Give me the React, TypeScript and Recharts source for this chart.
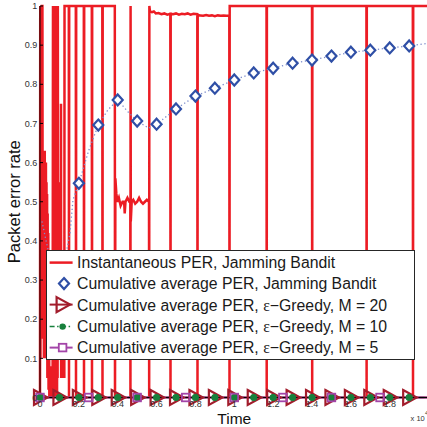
import React from 'react';
import { ComposedChart, Line, XAxis, YAxis, Legend } from 'recharts';

// ---------- axes ----------
const xTicks = [0, 2000, 4000, 6000, 8000, 10000, 12000, 14000, 16000, 18000];
const xTickLabels = ['0', '0.2', '0.4', '0.6', '0.8', '1', '1.2', '1.4', '1.6', '1.8'];
const yTicks = [0, 0.1, 0.2, 0.3, 0.4, 0.5, 0.6, 0.7, 0.8, 0.9, 1];
const yTickLabels = ['0', '0.1', '0.2', '0.3', '0.4', '0.5', '0.6', '0.7', '0.8', '0.9', '1'];

// ---------- Instantaneous PER, Jamming Bandit: [time, PER] ----------
const instPER: [number, number][] = [
  [0, 0], [12, 1], [25, 0.1], [38, 1], [52, 0.2], [66, 1], [80, 0.15], [95, 1], [125, 1], [138, 0.3],
  [155, 0.62], [170, 0.15], [185, 0.6], [200, 0.1], [215, 0.58], [230, 0.2], [245, 0.63], [260, 0.12],
  [275, 0.57], [290, 0.25], [305, 0.6], [320, 0.1], [335, 0.55], [350, 0.2], [365, 0.52], [380, 0.05],
  [395, 0.47], [410, 0.1], [425, 0.42], [440, 0.02], [460, 0.3], [480, 0], [530, 0.08], [590, 0], [650, 0.05],
  [668, 1], [682, 0.05], [696, 1], [710, 0], [724, 1], [738, 0.1], [752, 1], [766, 0], [780, 1], [794, 0.05],
  [808, 1], [822, 0], [836, 1], [850, 0.1], [864, 1], [878, 0], [892, 1], [906, 0.05], [918, 1], [930, 0.3],
  [945, 0.52], [960, 0.2], [975, 0.55], [990, 0.25], [1005, 0.5], [1020, 0.15], [1035, 0.48], [1050, 0.2],
  [1064, 0.42], [1074, 0.1], [1081, 0.75], [1088, 0.05], [1110, 0.3], [1140, 0.1], [1170, 0.25], [1200, 0.05],
  [1230, 0.2], [1252, 0.05], [1262, 1],
  [1483, 1], [1493, 0], [1503, 1], [1843, 1], [1853, 0], [1863, 1], [2255, 1], [2265, 0], [2275, 1],
  [2666, 1], [2676, 0], [2686, 1], [3207, 1], [3217, 0], [3227, 1], [3850, 1], [3860, 0],
  [3880, 0.56], [3930, 0.52], [3990, 0.5], [4060, 0.51], [4150, 0.49], [4250, 0.5], [4330, 0.5], [4360, 0.47],
  [4400, 0.5], [4500, 0.51], [4600, 0.5], [4648, 0.5], [4655, 0], [4662, 1], [4672, 0.45], [4720, 0.5],
  [4800, 0.505], [4900, 0.495], [5000, 0.5], [5100, 0.51], [5200, 0.5], [5300, 0.495], [5400, 0.5],
  [5500, 0.505], [5610, 0.5], [5619, 0], [5628, 1],
  [5660, 0.986], [5760, 0.984], [5860, 0.986], [5960, 0.981], [6100, 0.982], [6250, 0.979], [6400, 0.981],
  [6550, 0.978], [6707, 0.98], [6717, 0], [6727, 0.98], [6850, 0.979], [7000, 0.981], [7150, 0.978],
  [7300, 0.98], [7450, 0.979], [7600, 0.981], [7750, 0.978], [7900, 0.98], [8096, 0.979], [8106, 0],
  [8116, 0.977], [8250, 0.976], [8400, 0.975], [8550, 0.977], [8700, 0.975], [8850, 0.976], [9000, 0.974],
  [9150, 0.976], [9300, 0.975], [9450, 0.976], [9600, 0.975], [9743, 0.975], [9753, 0], [9763, 1],
  [11658, 1], [11668, 0], [11678, 1], [13999, 1], [14009, 0], [14019, 1], [16800, 1], [16810, 0], [16820, 1],
  [19188, 1], [19198, 0], [19208, 1], [20000, 1],
];

// ---------- Cumulative average PER, Jamming Bandit ----------
const jbMarkTime = [2000, 3000, 4000, 5000, 6000, 7000, 8000, 9000, 10000, 11000, 12000, 13000, 14000, 15000, 16000, 17000, 18000, 19000];
const jbMarkPER = [0.547, 0.696, 0.76, 0.706, 0.698, 0.737, 0.77, 0.79, 0.811, 0.829, 0.841, 0.854, 0.862, 0.872, 0.882, 0.887, 0.893, 0.898];
const jbCurveExtra: [number, number][] = [
  [100, 0.45], [400, 0.38], [800, 0.36], [1100, 0.36], [1390, 0.38], [1544, 0.42], [1698, 0.505],
  [2500, 0.63], [3500, 0.735], [4500, 0.731], [5600, 0.688], [20000, 0.905],
];

// ---------- epsilon-greedy ----------
const greedyTime = [0, 1000, 2000, 3000, 4000, 5000, 6000, 7000, 8000, 9000, 10000, 11000, 12000, 13000, 14000, 15000, 16000, 17000, 18000, 19000, 20000];
const greedy20PER = [0, 0, 0, 0, 0, 0, 0, 0, 0, 0, 0, 0, 0, 0, 0, 0, 0, 0, 0, 0, 0];
const greedy10PER = [0, 0, 0, 0, 0, 0, 0, 0, 0, 0, 0, 0, 0, 0, 0, 0, 0, 0, 0, 0, 0];
const greedy5Time = [0, 2500, 5000, 7500, 10000, 12500, 15000, 17500, 20000];
const greedy5PER = [0, 0, 0, 0, 0, 0, 0, 0, 0];

const legendLabels = [
  'Instantaneous PER, Jamming Bandit',
  'Cumulative average PER, Jamming Bandit',
  'Cumulative average PER, ε−Greedy, M = 20',
  'Cumulative average PER, ε−Greedy, M = 10',
  'Cumulative average PER, ε−Greedy, M = 5',
];

const RED = '#ec1c24';
const BLUE = '#2f4fa6';
const DOT_BLUE = '#7d8ccb';
const DARKRED = '#a21d2c';
const GREEN = '#17803c';
const PURPLE = '#a345a8';
const FONT = '"Liberation Sans", Arial, sans-serif';

const instData = instPER.map(([t, v]) => ({ t, v }));
const jbMarkData = jbMarkTime.map((t, i) => ({ t, v: jbMarkPER[i] }));
const jbCurveData = [...jbMarkData, ...jbCurveExtra.map(([t, v]) => ({ t, v }))].sort((a, b) => a.t - b.t);
const g20Data = greedyTime.map((t, i) => ({ t, v: greedy20PER[i] }));
const g10Data = greedyTime.map((t, i) => ({ t, v: greedy10PER[i] }));
const g5Data = greedy5Time.map((t, i) => ({ t, v: greedy5PER[i] }));

const isEnd = (p: any) => p.payload && p.payload.t >= 20000;

const DiamondDot = (p: any) => {
  const { cx, cy, index } = p;
  if (cx == null || cy == null) return <g key={`d${index}`} />;
  return (
    <path key={`d${index}`} d={`M${cx},${cy - 5.5} L${cx + 5},${cy} L${cx},${cy + 5.5} L${cx - 5},${cy} Z`}
      fill="#fff" stroke={BLUE} strokeWidth={2.2} />
  );
};
const TriDot = (p: any) => {
  const { cx, cy, index } = p;
  if (cx == null || cy == null || isEnd(p)) return <g key={`t${index}`} />;
  return (
    <path key={`t${index}`} d={`M${cx - 6},${cy - 7.5} L${cx + 7.5},${cy} L${cx - 6},${cy + 7.5} Z`}
      fill="none" stroke={DARKRED} strokeWidth={2.2} strokeLinejoin="miter" />
  );
};
const CircDot = (p: any) => {
  const { cx, cy, index } = p;
  if (cx == null || cy == null || isEnd(p)) return <g key={`c${index}`} />;
  return <circle key={`c${index}`} cx={cx} cy={cy} r={3.2} fill={GREEN} stroke={GREEN} strokeWidth={1} />;
};
const SqDot = (p: any) => {
  const { cx, cy, index } = p;
  if (cx == null || cy == null || isEnd(p)) return <g key={`s${index}`} />;
  return <rect key={`s${index}`} x={cx - 3.8} y={cy - 3.8} width={7.6} height={7.6} fill="none" stroke={PURPLE} strokeWidth={1.8} />;
};

const EmptyTick = () => <g />;

const XLabel = (props: any) => {
  const vb = props.viewBox || { x: 40, y: 397.5, width: 388.6, height: 29.5 };
  const right = vb.x + vb.width;
  return (
    <g>
      <text x={vb.x + vb.width / 2} y={vb.y + 26} textAnchor="middle" fontFamily={FONT} fontSize={15.5} fill="#111">Time</text>
      <text x={right - 18} y={vb.y + 23} fontFamily={FONT} fontSize={7.5} fill="#333">x 10</text>
      <text x={right - 3.5} y={vb.y + 17.5} fontFamily={FONT} fontSize={6} fill="#333">4</text>
    </g>
  );
};

const YLabel = (props: any) => {
  const vb = props.viewBox || { x: 0, y: 6, width: 40, height: 391.5 };
  const cx = 20;
  const cy = vb.y + vb.height / 2;
  return (
    <text x={cx} y={cy} transform={`rotate(-90 ${cx} ${cy})`} textAnchor="middle" fontFamily={FONT} fontSize={16.5} fill="#111">
      Packet error rate
    </text>
  );
};

const LegendIcon = ({ i }: { i: number }) => {
  const y = 10.6;
  if (i === 0) return <line x1={2.6} x2={25.6} y1={y} y2={y} stroke={RED} strokeWidth={2.5} />;
  if (i === 1) return <path d={`M17,${y - 5.5} L22,${y} L17,${y + 5.5} L12,${y} Z`} fill="#fff" stroke={BLUE} strokeWidth={2.2} />;
  if (i === 2) return (
    <g>
      <line x1={2.6} x2={25.6} y1={y} y2={y} stroke={DARKRED} strokeWidth={2} />
      <path d={`M${15.6 - 6},${y - 7.5} L${15.6 + 7.5},${y} L${15.6 - 6},${y + 7.5} Z`} fill="none" stroke={DARKRED} strokeWidth={2.2} />
    </g>
  );
  if (i === 3) return (
    <g>
      <line x1={2.6} x2={25.6} y1={y} y2={y} stroke={GREEN} strokeWidth={1.5} strokeDasharray="5 2.5 1.5 2.5" />
      <circle cx={15.6} cy={y} r={3.2} fill={GREEN} />
    </g>
  );
  return (
    <g>
      <line x1={2.6} x2={25.6} y1={y} y2={y} stroke={PURPLE} strokeWidth={2} />
      <rect x={15.6 - 3.8} y={y - 3.8} width={7.6} height={7.6} fill="#fff" stroke={PURPLE} strokeWidth={1.8} />
    </g>
  );
};

const renderLabel = (s: string) => {
  const parts = s.split('ε');
  if (parts.length === 1) return s;
  return (
    <>
      {parts[0]}
      <span style={{ fontFamily: '"Liberation Serif", "DejaVu Serif", serif' }}>ε</span>
      {parts[1]}
    </>
  );
};

const renderLegend = () => (
  <div style={{ position: 'relative', width: 367, height: 108, border: '1.4px solid #262626', background: '#fff' }}>
    {legendLabels.map((lab, i) => (
      <div key={i} style={{ position: 'absolute', left: 0, top: 0.95 + i * 21.25, height: 21.25, display: 'flex', alignItems: 'center', whiteSpace: 'nowrap' }}>
        <svg width={30} height={21.25} style={{ display: 'block' }}><LegendIcon i={i} /></svg>
        <span style={{ fontFamily: FONT, fontSize: 15.8, color: '#1a1a1a', lineHeight: '21px' }}>{renderLabel(lab)}</span>
      </div>
    ))}
  </div>
);

export default function App() {
  return (
    <div style={{ position: 'absolute', left: 0, top: 0, width: 427, height: 427, overflow: 'hidden', background: '#fff' }}>
      <ComposedChart width={440} height={427} margin={{ top: 6, right: 11.4, bottom: 0, left: 0 }}>
        <XAxis
          type="number" dataKey="t" domain={[0, 20000]} ticks={xTicks}
          tickFormatter={(v: number) => xTickLabels[xTicks.indexOf(v)]}
          height={29.5} tickSize={-3} tickMargin={6.5}
          axisLine={{ stroke: '#000', strokeWidth: 1 }} tickLine={{ stroke: '#000' }}
          tick={{ fill: '#333', fontSize: 9, fontFamily: FONT }}
          label={{ content: XLabel }}
        />
        <XAxis
          xAxisId="top" orientation="top" type="number" dataKey="t" domain={[0, 20000]} ticks={xTicks}
          height={0} tickSize={-3} tick={EmptyTick}
          axisLine={{ stroke: '#000', strokeWidth: 1 }} tickLine={{ stroke: '#000' }}
        />
        <YAxis
          type="number" domain={[0, 1]} ticks={yTicks} width={40}
          tickFormatter={(v: number) => yTickLabels[yTicks.indexOf(v)]}
          tickSize={-3} tickMargin={5.7}
          axisLine={{ stroke: '#000', strokeWidth: 1 }} tickLine={{ stroke: '#000' }}
          tick={{ fill: '#333', fontSize: 9, fontFamily: FONT }}
          label={{ content: YLabel }}
        />
        <Line data={instData} dataKey="v" type="linear" stroke={RED} strokeWidth={2.5} dot={false} activeDot={false} isAnimationActive={false} />
        <Line data={jbCurveData} dataKey="v" type="linear" stroke={DOT_BLUE} strokeWidth={1.3} strokeDasharray="1.3 2.6" dot={false} activeDot={false} isAnimationActive={false} />
        <Line data={jbMarkData} dataKey="v" type="linear" stroke="none" dot={DiamondDot} activeDot={false} isAnimationActive={false} />
        <Line data={g20Data} dataKey="v" type="linear" stroke={DARKRED} strokeWidth={2} dot={TriDot} activeDot={false} isAnimationActive={false} />
        <Line data={g10Data} dataKey="v" type="linear" stroke={GREEN} strokeWidth={1.5} strokeDasharray="5 2.5 1.5 2.5" dot={CircDot} activeDot={false} isAnimationActive={false} />
        <Line data={g5Data} dataKey="v" type="linear" stroke={PURPLE} strokeWidth={2} dot={SqDot} activeDot={false} isAnimationActive={false} />
        <Legend
          layout="vertical" align="center" verticalAlign="middle" content={renderLegend}
          wrapperStyle={{ left: 46, top: 250, width: 370, height: 111 }}
        />
      </ComposedChart>
    </div>
  );
}
